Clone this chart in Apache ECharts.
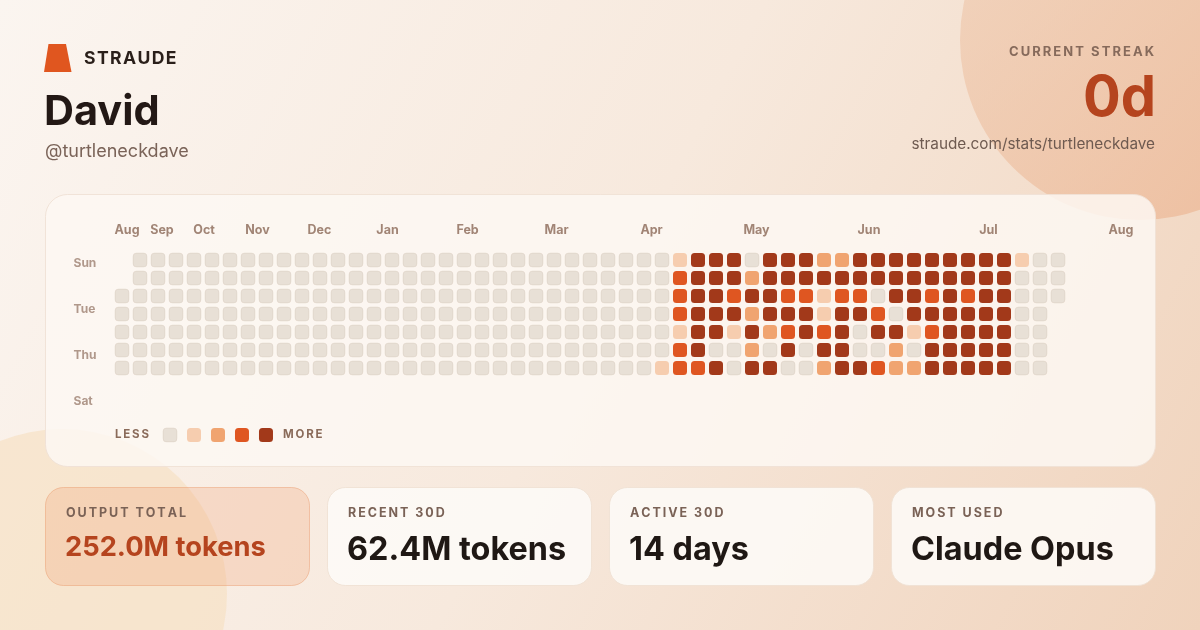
<!DOCTYPE html>
<html>
<head>
<meta charset="utf-8">
<script src="https://cdn.jsdelivr.net/npm/echarts@6/dist/echarts.min.js"></script>
<style>
  html, body { margin: 0; padding: 0; background: #F8ECE1; }
  #chart { width: 1200px; height: 630px; }
</style>
</head>
<body>
<div id="chart"></div>
<script>
// ---------- DATA ----------
// Activity level (0-4) per week column (53 weeks), one array per weekday row. null = no day.
const sun = [null,0,0,0,0,0,0,0,0,0,0,0,0,0,0,0,0,0,0,0,0,0,0,0,0,0,0,0,0,0, 0,1,4,4,4,0,4,4,4,2,2,4,4,4,4,4,4,4,4,4,1,0,0];
const mon = [null,0,0,0,0,0,0,0,0,0,0,0,0,0,0,0,0,0,0,0,0,0,0,0,0,0,0,0,0,0, 0,3,4,4,4,2,4,4,4,4,4,4,4,4,4,4,4,4,4,4,0,0,0];
const tue = [0,0,0,0,0,0,0,0,0,0,0,0,0,0,0,0,0,0,0,0,0,0,0,0,0,0,0,0,0,0, 0,3,4,4,3,4,4,3,3,1,3,3,0,4,4,3,4,3,4,4,0,0,0];
const wed = [0,0,0,0,0,0,0,0,0,0,0,0,0,0,0,0,0,0,0,0,0,0,0,0,0,0,0,0,0,0, 0,3,4,4,4,2,4,4,4,1,4,4,3,0,4,4,4,4,4,4,0,0,null];
const thu = [0,0,0,0,0,0,0,0,0,0,0,0,0,0,0,0,0,0,0,0,0,0,0,0,0,0,0,0,0,0, 0,1,4,4,1,4,2,3,4,3,4,0,4,4,1,3,4,4,4,4,0,0,null];
const fri = [0,0,0,0,0,0,0,0,0,0,0,0,0,0,0,0,0,0,0,0,0,0,0,0,0,0,0,0,0,0, 0,3,4,0,0,2,0,4,0,4,4,0,0,2,0,4,4,4,4,4,0,0,null];
const sat = [0,0,0,0,0,0,0,0,0,0,0,0,0,0,0,0,0,0,0,0,0,0,0,0,0,0,0,0,0,0, 1,3,3,4,0,4,4,0,0,2,4,4,3,2,2,4,4,4,4,4,0,0,null];

// Month tick labels and their positions (in week-column units)
const monthLabels = ['Aug','Sep','Oct','Nov','Dec','Jan','Feb','Mar','Apr','May','Jun','Jul','Aug'];
const monthPos    = [0.28, 2.22, 4.56, 7.53, 10.97, 14.75, 19.2, 24.14, 29.42, 35.25, 41.5, 48.14, 55.5];

// Weekday labels and their positions (in row units)
const dayLabels = ['Sun','Tue','Thu','Sat'];
const dayPos    = [0.2, 2.75, 5.3, 7.85];

// Legend levels
const legendLevels = [0, 1, 2, 3, 4];

// Stats
const cardLabels = ['OUTPUT TOTAL', 'RECENT 30D', 'ACTIVE 30D', 'MOST USED'];
const cardValues = ['252.0M tokens', '62.4M tokens', '14 days', 'Claude Opus'];
const userName = 'David';
const userHandle = '@turtleneckdave';
const streakValue = '0d';
const profileUrl = 'straude.com/stats/turtleneckdave';

// ---------- STYLE ----------
const levelColors = ['#E8E0D6', '#F6CDAF', '#F0A470', '#DF5621', '#A2391A'];
const FONT = 'Inter, "Noto Sans", sans-serif';
const sp = (s, n) => s.split('').join('\u200A'.repeat(n || 1));

// ---------- BUILD ----------
const rows = [sun, mon, tue, wed, thu, fri, sat];
const cellData = [];
rows.forEach((arr, r) => arr.forEach((v, c) => { if (v !== null) cellData.push([c, r, v]); }));
const legendData = legendLevels.map((lv, i) => [2.667 + i * 1.333, 9.72, lv]);
const monthData = monthLabels.map((m, i) => ({ value: [monthPos[i], -1.68], name: m }));
const dayData = dayLabels.map((d, i) => ({ value: [-2.72, dayPos[i]], name: d }));

function cellRender(params, api) {
  const p = api.coord([api.value(0), api.value(1)]);
  const s = api.size([1, 1]);
  const w = s[0] * 14 / 18, h = s[1] * 14 / 18;
  const lv = api.value(2);
  return {
    type: 'rect',
    shape: { x: p[0] - w / 2, y: p[1] - h / 2, width: w, height: h, r: 3.5 },
    style: { fill: levelColors[lv], stroke: lv === 0 ? 'rgba(150,120,90,0.10)' : 'rgba(0,0,0,0)', lineWidth: 1 }
  };
}

const chart = echarts.init(document.getElementById('chart'), null, { renderer: 'canvas' });

const cardXs = [45, 327, 609, 891];
const cardGraphics = [];
cardXs.forEach((x, i) => {
  const first = i === 0;
  cardGraphics.push({
    type: 'rect', z: 1,
    shape: { x: x + 0.5, y: 487.5, width: 264, height: 98, r: 18 },
    style: first
      ? { fill: 'rgba(238,160,112,0.26)', stroke: 'rgba(232,150,105,0.45)', lineWidth: 1 }
      : { fill: 'rgba(253,250,247,0.88)', stroke: 'rgba(240,225,212,0.9)', lineWidth: 1 }
  });
  cardGraphics.push({
    type: 'text', z: 2, x: x + 21, y: 513.5,
    style: { text: sp(cardLabels[i], 2), font: '700 12.5px ' + FONT, fill: '#7A6256', verticalAlign: 'middle' }
  });
  cardGraphics.push({
    type: 'text', z: 2, x: x + 20, y: first ? 547.5 : 550,
    style: { text: cardValues[i], font: first ? '700 27.3px ' + FONT : '700 32.4px ' + FONT,
             fill: first ? '#B5441E' : '#1F1814', verticalAlign: 'middle' }
  });
});

const option = {
  animation: false,
  backgroundColor: {
    type: 'linear', x: 0, y: 0, x2: 1, y2: 1,
    colorStops: [{ offset: 0, color: '#FBF5F0' }, { offset: 0.5, color: '#F7E9DD' }, { offset: 1, color: '#F0D3BC' }]
  },
  grid: { left: 50, top: 206, width: 1116, height: 252, containLabel: false },
  xAxis: { type: 'value', min: -4, max: 58, show: false },
  yAxis: { type: 'value', min: -3, max: 11, inverse: true, show: false },
  graphic: [
    // background blobs
    { type: 'circle', z: -10, shape: { cx: 1140, cy: 40, r: 180 },
      style: { fill: { type: 'linear', x: 0, y: 0, x2: 1, y2: 1,
        colorStops: [{ offset: 0, color: 'rgba(238,200,172,0.55)' }, { offset: 1, color: 'rgba(236,180,145,0.75)' }] } } },
    { type: 'circle', z: -10, shape: { cx: 62, cy: 594, r: 165 },
      style: { fill: 'rgba(247,225,196,0.7)' } },
    // heatmap card
    { type: 'rect', z: 0, shape: { x: 45.5, y: 194.5, width: 1110, height: 272, r: 22 },
      style: { fill: 'rgba(253,248,243,0.84)', stroke: 'rgba(240,226,214,0.95)', lineWidth: 1 } },
    // logo
    { type: 'polygon', z: 2, shape: { points: [[48.5, 44], [66, 44], [71.5, 72], [44, 72]] },
      style: { fill: '#E0561F' } },
    { type: 'text', z: 2, x: 84, y: 58.5,
      style: { text: sp('STRAUDE', 1), font: '700 17.6px ' + FONT, fill: '#2A1F1A', verticalAlign: 'middle' } },
    { type: 'text', z: 2, x: 44, y: 112.5,
      style: { text: userName, font: '700 41.5px ' + FONT, fill: '#231815', verticalAlign: 'middle' } },
    { type: 'text', z: 2, x: 45, y: 152,
      style: { text: userHandle, font: '400 18px ' + FONT, fill: '#7A6358', verticalAlign: 'middle' } },
    // streak
    { type: 'text', z: 2, x: 1154, y: 52.5,
      style: { text: sp('CURRENT STREAK', 2), font: '700 13px ' + FONT, fill: '#866A5B', align: 'right', verticalAlign: 'middle' } },
    { type: 'text', z: 2, x: 1156, y: 99,
      style: { text: streakValue, font: '700 56px ' + FONT, fill: '#B5441E', align: 'right', verticalAlign: 'middle' } },
    { type: 'text', z: 2, x: 1155, y: 144,
      style: { text: profileUrl, font: '400 15.3px ' + FONT, fill: '#6E5A50', align: 'right', verticalAlign: 'middle' } },
    // legend words
    { type: 'text', z: 2, x: 115, y: 435,
      style: { text: sp('LESS', 2), font: '700 11.5px ' + FONT, fill: '#8A6B5A', verticalAlign: 'middle' } },
    { type: 'text', z: 2, x: 283, y: 435,
      style: { text: sp('MORE', 2), font: '700 11.5px ' + FONT, fill: '#8A6B5A', verticalAlign: 'middle' } }
  ].concat(cardGraphics),
  series: [
    { type: 'custom', name: 'activity', renderItem: cellRender, data: cellData, silent: true, z: 3 },
    { type: 'custom', name: 'legend', renderItem: cellRender, data: legendData, silent: true, z: 3 },
    { type: 'scatter', name: 'months', data: monthData, symbolSize: 1, silent: true, z: 3,
      itemStyle: { color: 'rgba(0,0,0,0)' },
      label: { show: true, position: 'inside', formatter: (p) => p.name,
               fontFamily: FONT, fontWeight: 700, fontSize: 12.5, color: '#8A6856' } },
    { type: 'scatter', name: 'days', data: dayData, symbolSize: 1, silent: true, z: 3,
      itemStyle: { color: 'rgba(0,0,0,0)' },
      label: { show: true, position: 'right', distance: 0, formatter: (p) => p.name,
               fontFamily: FONT, fontWeight: 700, fontSize: 12, color: '#9C8070' } }
  ]
};
chart.setOption(option);
</script>
</body>
</html>
